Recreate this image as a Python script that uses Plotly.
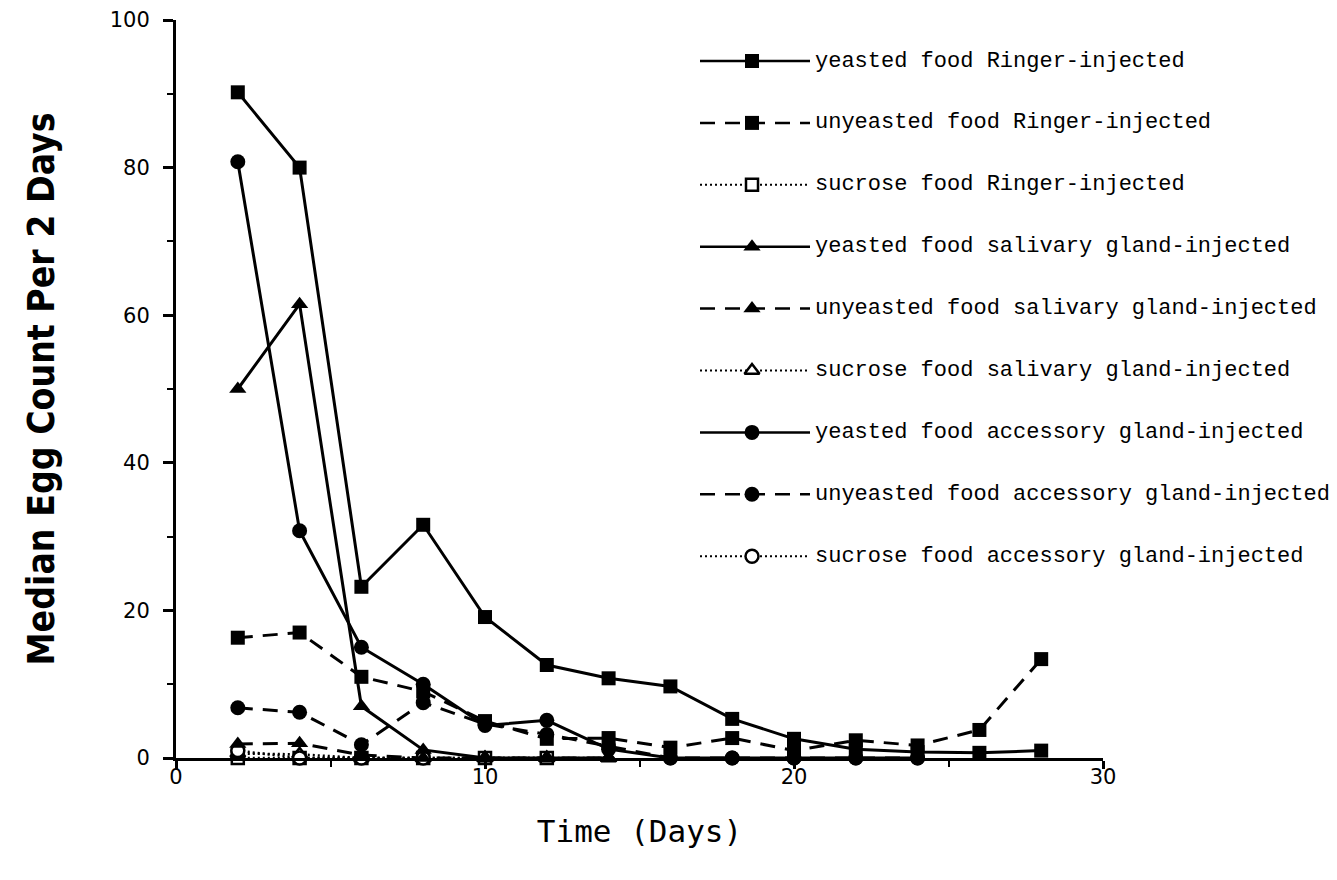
import plotly.graph_objects as go

W, H = 1337, 880

# Sampling days (every 2 days)
days = [2, 4, 6, 8, 10, 12, 14, 16, 18, 20, 22, 24, 26, 28]

# Median egg count per 2 days for each treatment
yeasted_ringer = [90.2, 80.0, 23.2, 31.6, 19.1, 12.6, 10.8, 9.7, 5.3, 2.6, 1.2, 0.8, 0.7, 1.0]
unyeasted_ringer = [16.3, 17.0, 11.0, 9.0, 5.0, 2.6, 2.7, 1.4, 2.7, 1.0, 2.4, 1.7, 3.8, 13.4]
sucrose_ringer = [0, 0, 0, 0, 0, 0]
yeasted_salivary = [50.0, 61.5, 7.0, 1.1, 0, 0, 0]
unyeasted_salivary = [1.9, 2.0, 0.4, 0, 0, 0, 0]
sucrose_salivary = [0.6, 0.5, 0, 0, 0, 0, 0]
yeasted_accessory = [80.8, 30.8, 15.0, 10.0, 4.4, 5.1, 1.2, 0, 0, 0, 0, 0]
unyeasted_accessory = [6.8, 6.2, 1.8, 7.5, 4.6, 3.2, 1.6, 0, 0, 0, 0, 0]
sucrose_accessory = [1.0, 0, 0, 0]

series_names = [
    "yeasted food Ringer-injected",
    "unyeasted food Ringer-injected",
    "sucrose food Ringer-injected",
    "yeasted food salivary gland-injected",
    "unyeasted food salivary gland-injected",
    "sucrose food salivary gland-injected",
    "yeasted food accessory gland-injected",
    "unyeasted food accessory gland-injected",
    "sucrose food accessory gland-injected",
]
series_values = [
    yeasted_ringer, unyeasted_ringer, sucrose_ringer,
    yeasted_salivary, unyeasted_salivary, sucrose_salivary,
    yeasted_accessory, unyeasted_accessory, sucrose_accessory,
]

x_ticks = [0, 10, 20, 30]
y_ticks = [0, 20, 40, 60, 80, 100]

SOLID, DASHED, DOTTED = "solid", "15px,10px", "2px,3px"
# (dash, symbol, size, hollow)
styles = [
    (SOLID, "square", 14, False), (DASHED, "square", 14, False), (DOTTED, "square", 12, True),
    (SOLID, "triangle-up", 15, False), (DASHED, "triangle-up", 15, False), (DOTTED, "triangle-up", 13, True),
    (SOLID, "circle", 15, False), (DASHED, "circle", 15, False), (DOTTED, "circle", 13, True),
]


def marker_style(sym, size, hollow):
    # hollow symbols: white fill with a black outline that hides the line beneath
    return dict(symbol=sym, size=size, color="white" if hollow else "black",
                line=dict(color="black", width=2.5 if hollow else 0))


# Plot area in pixels
L, R, T, B = 176, 1103, 20, 758

fig = go.Figure()

# Data series: dotted/dashed first so solid lines sit on top
order = [2, 5, 8, 1, 4, 7, 0, 3, 6]
for i in order:
    dash, sym, size, hollow = styles[i]
    vals = series_values[i]
    fig.add_trace(go.Scatter(
        x=days[:len(vals)], y=vals, name=series_names[i],
        mode="lines+markers", cliponaxis=False, showlegend=False,
        line=dict(color="black", width=3 if dash != DOTTED else 2.5, dash=dash),
        marker=marker_style(sym, size, hollow),
        xaxis="x", yaxis="y",
    ))

# Key drawn on a pixel-scaled overlay axis
row_y0, row_step = 61, 61.9
line_x0, line_x1, mark_x, text_x = 700, 810, 752, 813
for i, name in enumerate(series_names):
    dash, sym, size, hollow = styles[i]
    yy = row_y0 + row_step * i
    fig.add_trace(go.Scatter(
        x=[line_x0, line_x1], y=[yy, yy], mode="lines", showlegend=False,
        line=dict(color="black", width=2.5 if dash != DOTTED else 2, dash=dash),
        xaxis="x2", yaxis="y2", hoverinfo="skip", cliponaxis=False,
    ))
    fig.add_trace(go.Scatter(
        x=[mark_x], y=[yy], mode="markers", showlegend=False,
        marker=marker_style(sym, size, hollow),
        xaxis="x2", yaxis="y2", hoverinfo="skip", cliponaxis=False,
    ))
    fig.add_annotation(
        x=text_x, y=yy, xref="x2", yref="y2", text=name, showarrow=False,
        xanchor="left", yanchor="middle",
        font=dict(family="Liberation Mono", size=22, color="black"),
    )

fig.update_layout(
    width=W, height=H,
    autosize=False,
    margin=dict(l=0, r=0, t=0, b=0, pad=0, autoexpand=False),
    paper_bgcolor="white", plot_bgcolor="rgba(0,0,0,0)",
    showlegend=False,
    xaxis=dict(
        domain=[L / W, R / W], range=[0, 30], anchor="y", automargin=False,
        tickvals=x_ticks, ticktext=[str(v) for v in x_ticks],
        ticks="outside", ticklen=8, tickwidth=2.5, tickcolor="black",
        minor=dict(tickvals=[5, 15, 25], ticks="outside", ticklen=6, tickwidth=2, tickcolor="black"),
        showline=True, linecolor="black", linewidth=3,
        showgrid=False, zeroline=False, ticklabelstandoff=-10,
        tickfont=dict(family="DejaVu Sans", size=21, color="black"),
        title=dict(text="Time (Days)", standoff=33,
                   font=dict(family="DejaVu Sans Mono", size=31, color="black")),
    ),
    yaxis=dict(
        domain=[1 - B / H, 1 - T / H], range=[0, 100], anchor="x", automargin=False,
        tickvals=y_ticks, ticktext=[str(v) for v in y_ticks],
        ticks="outside", ticklen=10, tickwidth=2.5, tickcolor="black",
        minor=dict(tickvals=[10, 30, 50, 70, 90], ticks="outside", ticklen=6, tickwidth=2, tickcolor="black"),
        showline=True, linecolor="black", linewidth=3,
        showgrid=False, zeroline=False, ticklabelstandoff=9,
        tickfont=dict(family="DejaVu Sans", size=21, color="black"),
        title=dict(text="Median Egg Count Per 2 Days", standoff=44,
                   font=dict(family="DejaVu Sans Condensed", size=37, color="black", weight="bold")),
    ),
    xaxis2=dict(domain=[0, 1], range=[0, W], anchor="y2", visible=False, fixedrange=True, automargin=False),
    yaxis2=dict(domain=[0, 1], range=[H, 0], anchor="x2", visible=False, fixedrange=True, automargin=False),
)

fig.write_html("out.html")
